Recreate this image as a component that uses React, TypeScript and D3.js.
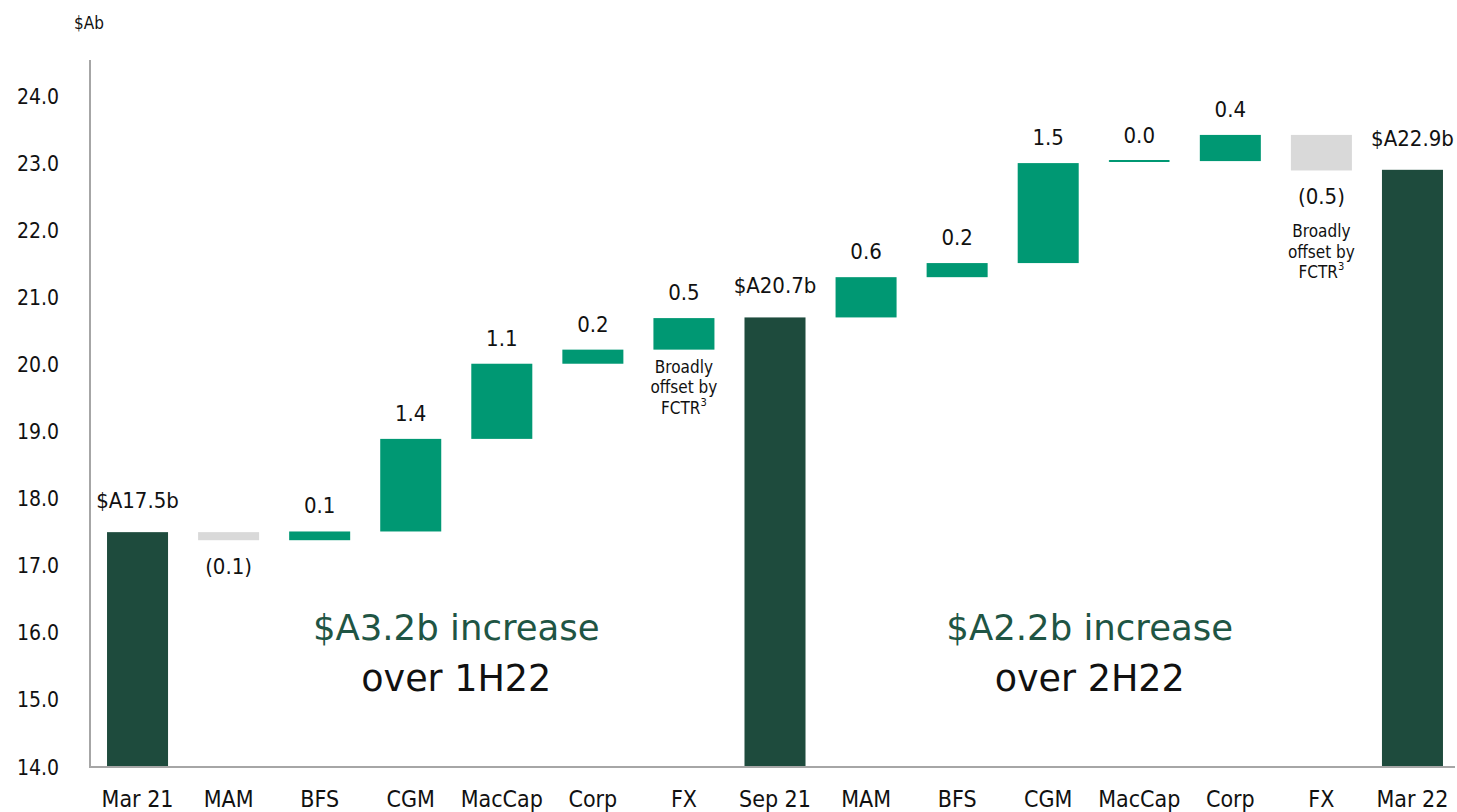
import React from "react";
import * as d3 from "d3";

const categories = ["Mar 21", "MAM", "BFS", "CGM", "MacCap", "Corp", "FX", "Sep 21", "MAM", "BFS", "CGM", "MacCap", "Corp", "FX", "Mar 22"];
const kinds = ["total", "delta", "delta", "delta", "delta", "delta", "delta", "total", "delta", "delta", "delta", "delta", "delta", "delta", "total"];
const values = [17.5, -0.12, 0.13, 1.38, 1.12, 0.21, 0.47, 20.7, 0.6, 0.21, 1.49, 0.03, 0.39, -0.53, 22.9];
const valueLabels = ["$A17.5b", "(0.1)", "0.1", "1.4", "1.1", "0.2", "0.5", "$A20.7b", "0.6", "0.2", "1.5", "0.0", "0.4", "(0.5)", "$A22.9b"];
const yTicks = [14, 15, 16, 17, 18, 19, 20, 21, 22, 23, 24];
const noteIndices = [6, 13];
const noteLines = ["Broadly", "offset by", "FCTR"];
const periodTitles = ["$A3.2b increase", "$A2.2b increase"];
const periodSubtitles = ["over 1H22", "over 2H22"];
const periodSpans = [[1, 6], [8, 13]];

const W = 1457;
const H = 812;
const DARK = "#1e4b3d";
const GREEN = "#009873";
const GREY = "#d9d9d9";
const AXIS = "#a6a6a6";
const TEXT = "#111111";
const LABEL_FONT = "'DejaVu Sans Condensed', 'DejaVu Sans', sans-serif";
const BIG_FONT = "'DejaVu Sans', 'Open Sans', sans-serif";

export default function App() {
  const x = d3
    .scaleBand<string>()
    .domain(categories.map((_, i) => String(i)))
    .range([92, 1458])
    .paddingInner(0.33)
    .paddingOuter(0.165);
  const y = d3.scaleLinear().domain([14, 24]).range([767, 96]);

  let running = 0;
  const bars = values.map((v, i) => {
    let lo: number, hi: number, color: string;
    if (kinds[i] === "total") {
      running = v;
      lo = 14;
      hi = v;
      color = DARK;
    } else {
      const start = running;
      running = running + v;
      lo = Math.min(start, running);
      hi = Math.max(start, running);
      color = v >= 0 ? GREEN : GREY;
    }
    return { i, lo, hi, color, v, kind: kinds[i] };
  });

  const bw = x.bandwidth();
  const cxOf = (i: number) => (x(String(i)) as number) + bw / 2;

  return (
    <svg width={W} height={H} style={{ position: "absolute", left: 0, top: 0, background: "#fff" }}>
      <text x={89} y={29} textAnchor="middle" fontFamily={LABEL_FONT} fontSize={17} fill={TEXT}>
        $Ab
      </text>

      {yTicks.map((t) => (
        <text key={t} x={59} y={y(t)} dy="0.36em" textAnchor="end" fontFamily={LABEL_FONT} fontSize={21} fill={TEXT}>
          {t.toFixed(1)}
        </text>
      ))}

      {bars.map((b) => {
        const x0 = x(String(b.i)) as number;
        const top = y(b.hi);
        const rawH = y(b.lo) - y(b.hi);
        const isThin = rawH < 3;
        return (
          <rect
            key={b.i}
            x={x0}
            y={isThin ? top - 1 : top}
            width={bw}
            height={Math.max(rawH, 2)}
            rx={isThin ? 1 : 0}
            fill={b.color}
          />
        );
      })}

      <line x1={90} x2={90} y1={60} y2={767} stroke={AXIS} strokeWidth={2} />
      <line x1={89} x2={1455} y1={767} y2={767} stroke={AXIS} strokeWidth={2} />

      {categories.map((c, i) => (
        <text key={i} x={cxOf(i)} y={807} textAnchor="middle" fontFamily={LABEL_FONT} fontSize={23} fill={TEXT}>
          {c}
        </text>
      ))}

      {bars.map((b) => {
        let ly: number;
        if (b.kind === "total") ly = y(b.hi) - 24;
        else if (b.v >= 0) ly = y(b.hi) - 18;
        else ly = y(b.lo) + 34;
        return (
          <text key={b.i} x={cxOf(b.i)} y={ly} textAnchor="middle" fontFamily={LABEL_FONT} fontSize={22} fill={TEXT}>
            {valueLabels[b.i]}
          </text>
        );
      })}

      {noteIndices.map((idx) => {
        const b = bars[idx];
        const cx = cxOf(idx);
        const start = b.v >= 0 ? y(b.lo) + 23 : y(b.lo) + 67;
        return (
          <text key={idx} textAnchor="middle" fontFamily={LABEL_FONT} fontSize={17} fill={TEXT}>
            {noteLines.map((ln, k) => (
              <tspan key={k} x={cx} y={start + k * 20.5}>
                {ln}
                {k === noteLines.length - 1 ? (
                  <tspan fontSize={11} dy={-8}>
                    3
                  </tspan>
                ) : null}
              </tspan>
            ))}
          </text>
        );
      })}

      {periodSpans.map((span, k) => {
        const cx = (cxOf(span[0]) + cxOf(span[1])) / 2 - 4 * k;
        return (
          <g key={k}>
            <text x={cx} y={640} textAnchor="middle" fontFamily={BIG_FONT} fontSize={35.5} fill="#1f5544">
              {periodTitles[k]}
            </text>
            <text x={cx} y={691} textAnchor="middle" fontFamily={BIG_FONT} fontSize={36.5} fill={TEXT}>
              {periodSubtitles[k]}
            </text>
          </g>
        );
      })}
    </svg>
  );
}
